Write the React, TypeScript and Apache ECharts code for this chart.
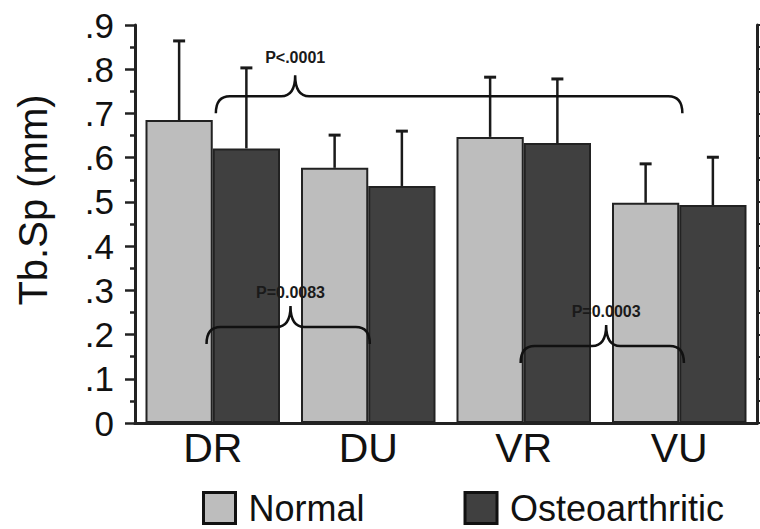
import React, { useEffect, useRef } from "react";
import * as echarts from "echarts";

const categories = ["DR", "DU", "VR", "VU"];
const seriesNames = ["Normal", "Osteoarthritic"];
const normalMean = [0.685, 0.577, 0.647, 0.498];
const osteoMean = [0.621, 0.536, 0.633, 0.493];
const normalSD = [0.179, 0.074, 0.135, 0.088];
const osteoSD = [0.182, 0.124, 0.145, 0.108];
const yTickLabels = ["0", ".1", ".2", ".3", ".4", ".5", ".6", ".7", ".8", ".9"];

// significance braces (category-index positions, y level in data units)
const braceLabels = ["P<.0001", "P=0.0083", "P=0.0003"];
const braceFrom = [0.02, -0.04, 1.98];
const braceTo = [3.02, 1.01, 3.03];
const braceCusp = [0.53, 0.5, 2.53];
const braceLevel = [0.739, 0.217, 0.174];

const FONT = "'Liberation Sans', Arial, Helvetica, sans-serif";
const GAP = 0.135;

export default function App() {
  const ref = useRef<HTMLDivElement>(null);
  useEffect(() => {
    document.body.style.margin = "0";
    const chart = echarts.init(ref.current!, null, { renderer: "svg" });

    const errSeries = (name: string, mean: number[], sd: number[], side: number) => ({
      type: "custom",
      name: name + " SD",
      z: 5,
      data: mean.map((m, i) => [i, m, sd[i]]),
      encode: { x: 0, y: 1 },
      renderItem: (params: any, api: any) => {
        const idx = api.value(0);
        const m = api.value(1);
        const s = api.value(2);
        const band = api.size([1, 0])[0];
        const barW = (band * (1 - GAP)) / 2;
        const p0 = api.coord([idx, m]);
        const p1 = api.coord([idx, m + s]);
        const x = p0[0] + (side * barW) / 2;
        return {
          type: "group",
          children: [
            { type: "line", shape: { x1: x, y1: p0[1], x2: x, y2: p1[1] }, style: { stroke: "#1a1a1a", lineWidth: 2.5 } },
            { type: "line", shape: { x1: x - 6, y1: p1[1], x2: x + 6, y2: p1[1] }, style: { stroke: "#1a1a1a", lineWidth: 3 } },
          ],
        };
      },
    });

    const option: any = {
      animation: false,
      backgroundColor: "#ffffff",
      grid: { left: 135, right: 3, top: 25, bottom: 106, containLabel: false },
      legend: {
        data: seriesNames,
        left: 202,
        top: 490,
        padding: 0,
        icon: "rect",
        itemWidth: 32,
        itemHeight: 31,
        itemGap: 99,
        itemStyle: { borderWidth: 3, borderColor: "#111" },
        textStyle: { fontSize: 36, lineHeight: 34, fontFamily: FONT, color: "#111", padding: [2, 0, 0, 8] },
      },
      graphic: [
        {
          type: "text",
          x: 33,
          y: 200,
          rotation: Math.PI / 2,
          style: {
            text: "Tb.Sp (mm)",
            font: `40px ${FONT}`,
            fill: "#111",
            align: "center",
            verticalAlign: "middle",
            textAlign: "center",
            textVerticalAlign: "middle",
          },
        },
      ],
      xAxis: [
        {
          type: "category",
          data: categories,
          position: "bottom",
          axisLine: { lineStyle: { color: "#222", width: 3 } },
          axisTick: { alignWithLabel: true, length: 5, lineStyle: { color: "#222", width: 2 } },
          axisLabel: { fontSize: 41, fontFamily: FONT, color: "#111", margin: 4 },
          splitLine: { show: false },
        },
        {
          type: "category",
          data: categories,
          position: "top",
          axisLine: { lineStyle: { color: "#222", width: 3 } },
          axisTick: { show: false },
          axisLabel: { show: false },
          splitLine: { show: false },
        },
      ],
      yAxis: [
        {
          type: "value",
          min: 0,
          max: 0.9,
          interval: 0.1,
          position: "left",
          axisLine: { show: true, lineStyle: { color: "#222", width: 3 } },
          axisTick: { show: true, length: 10, lineStyle: { color: "#222", width: 2.5 } },
          minorTick: { show: true, splitNumber: 2, length: 5, lineStyle: { color: "#222", width: 2.5 } },
          axisLabel: {
            fontSize: 35,
            fontFamily: FONT,
            color: "#111",
            margin: 21,
            formatter: (v: number) => yTickLabels[Math.round(v * 10)],
          },
          splitLine: { show: false },
        },
        {
          type: "value",
          min: 0,
          max: 0.9,
          interval: 0.1,
          position: "right",
          axisLine: { show: true, lineStyle: { color: "#222", width: 3 } },
          axisTick: { show: true, length: 10, lineStyle: { color: "#222", width: 2 } },
          minorTick: { show: true, splitNumber: 2, length: 10, lineStyle: { color: "#222", width: 2 } },
          axisLabel: { show: false },
          splitLine: { show: false },
        },
      ],
      series: [
        {
          type: "bar",
          name: seriesNames[0],
          data: normalMean,
          barGap: "0%",
          barCategoryGap: GAP * 100 + "%",
          itemStyle: { color: "#bdbdbd", borderColor: "#222", borderWidth: 2 },
        },
        {
          type: "bar",
          name: seriesNames[1],
          data: osteoMean,
          barGap: "0%",
          barCategoryGap: GAP * 100 + "%",
          itemStyle: { color: "#404040", borderColor: "#222", borderWidth: 2 },
        },
        errSeries(seriesNames[0], normalMean, normalSD, -1),
        errSeries(seriesNames[1], osteoMean, osteoSD, 1),
        {
          type: "custom",
          name: "braces",
          z: 10,
          data: braceLevel.map((lv) => [0, lv]),
          encode: { x: 0, y: 1 },
          renderItem: (params: any, api: any) => {
            const i = params.dataIndex;
            const lv = api.value(1);
            const band = api.size([1, 0])[0];
            const base = api.coord([0, lv]);
            const y = base[1];
            const x0 = base[0] + braceFrom[i] * band;
            const x1 = base[0] + braceTo[i] * band;
            const cx = base[0] + braceCusp[i] * band;
            const drop = 17;
            const rise = 21;
            const r = 14;
            const rc = 14;
            const yEnd = y + drop;
            const yC = y - rise;
            const d =
              `M${x0},${yEnd} Q${x0},${y} ${x0 + r},${y} L${cx - rc},${y} ` +
              `Q${cx},${y} ${cx},${yC} Q${cx},${y} ${cx + rc},${y} ` +
              `L${x1 - r},${y} Q${x1},${y} ${x1},${yEnd}`;
            return {
              type: "group",
              children: [
                {
                  type: "path",
                  shape: { pathData: d },
                  style: { fill: "none", stroke: "#111", lineWidth: 2.5 },
                },
                {
                  type: "text",
                  x: cx,
                  y: yC - (i === 0 ? 18 : 14),
                  style: {
                    text: braceLabels[i],
                    font: `bold 16px ${FONT}`,
                    fill: "#1a1a1a",
                    align: "center",
                    verticalAlign: "middle",
                  },
                },
              ],
            };
          },
        },
      ],
    };
    chart.setOption(option);
    return () => chart.dispose();
  }, []);
  return <div ref={ref} style={{ width: 760, height: 529 }} />;
}
